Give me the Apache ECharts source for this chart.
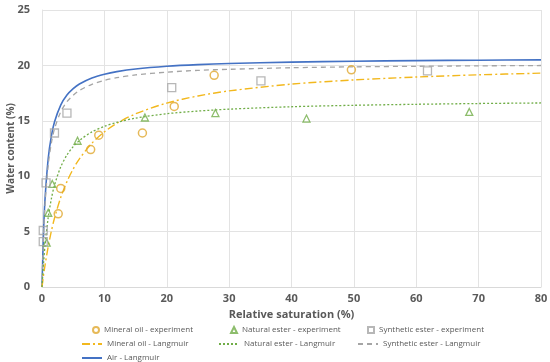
<!DOCTYPE html>
<html><head><meta charset="utf-8">
<script src="https://cdn.jsdelivr.net/npm/echarts@6/dist/echarts.min.js"></script>
<style>html,body{margin:0;padding:0;background:#fff}#c{width:550px;height:362px}</style>
</head><body><div id="c"></div>
<script>
// Experimental points [relative saturation %, water content %]
var mineralExp = [[2.6,6.6],[3.0,8.9],[7.8,12.4],[9.1,13.7],[16.1,13.9],[21.2,16.3],[27.6,19.1],[49.6,19.6]];
var naturalExp = [[0.75,4.0],[1.0,6.7],[1.65,9.3],[5.7,13.2],[16.5,15.3],[27.8,15.7],[42.4,15.2],[68.5,15.8]];
var syntheticExp = [[0.2,4.1],[0.2,5.1],[0.65,9.4],[2.0,13.9],[4.0,15.7],[20.8,18.0],[35.1,18.6],[61.8,19.5]];

// Fitted curves
var curveX = [0,0.25,0.5,1,1.5,2,3,4,5,6,8,10,12,15,20,25,30,40,50,60,70,80];
var mineralFit = [0,1.06,2.01,3.66,5.04,6.20,8.08,9.51,10.65,11.57,12.98,14.00,14.77,15.63,16.60,17.24,17.70,18.31,18.69,18.95,19.15,19.30];
var naturalFit = [0,2.18,3.86,6.29,7.96,9.18,10.84,11.91,12.67,13.22,14.00,14.50,14.86,15.24,15.64,15.88,16.05,16.27,16.40,16.49,16.56,16.61];
var syntheticFit = [0,4.66,7.58,11.02,12.99,14.26,15.81,16.72,17.31,17.74,18.29,18.65,18.89,19.14,19.39,19.55,19.65,19.79,19.87,19.92,19.96,19.99];
var airFit = [0,5.02,8.08,11.62,13.61,14.89,16.42,17.32,17.90,18.32,18.86,19.20,19.44,19.68,19.92,20.07,20.17,20.30,20.38,20.43,20.47,20.50];

var xTicks = [0,10,20,30,40,50,60,70,80];
var yTicks = [0,5,10,15,20,25];

function pairs(xs, ys){ return xs.map(function(x,i){return [x, ys[i]];}); }

var GOLD = '#E0A82E', GOLDLINE = '#F2B81E', GREEN = '#70AD47', GREY = '#A5A5A5', BLUE = '#4472C4';
var FONT = 'Open Sans';
var labelStyle = {color:'#595959', fontSize:11, fontWeight:'bold', fontFamily:FONT};

function leg(name, left, top, w, h, isLine){
  var o = {data:[name], left:left, top:top, itemWidth:w, itemHeight:h, padding:0, itemGap:0,
    textStyle:{color:'#595959', fontSize:8, fontFamily:FONT}, selectedMode:false};
  if (isLine) o.itemStyle = {opacity:0};
  return o;
}

var chart = echarts.init(document.getElementById('c'), null, {renderer:'canvas'});
chart.setOption({
  animation:false,
  backgroundColor:'#fff',
  grid:{left:42, right:9, top:10, bottom:75, containLabel:false, outerBoundsMode:'none'},
  xAxis:{type:'value', min:xTicks[0], max:xTicks[xTicks.length-1], interval:10,
    name:'Relative saturation (%)', nameLocation:'middle', nameGap:22,
    nameTextStyle:{color:'#595959', fontSize:11, fontWeight:'bold', fontFamily:FONT},
    axisLine:{show:true, lineStyle:{color:'#D9D9D9'}}, axisTick:{show:false},
    axisLabel:Object.assign({margin:6}, labelStyle),
    splitLine:{show:true, lineStyle:{color:'#E3E3E3'}}},
  yAxis:{type:'value', min:yTicks[0], max:yTicks[yTicks.length-1], interval:5,
    name:'Water content (%)', nameLocation:'middle', nameGap:26, nameRotate:90, nameMoveOverlap:false,
    nameTextStyle:{color:'#595959', fontSize:10, fontWeight:'bold', fontFamily:FONT},
    axisLine:{show:true, lineStyle:{color:'#E3E3E3'}}, axisTick:{show:false},
    axisLabel:Object.assign({margin:12}, labelStyle),
    splitLine:{show:true, lineStyle:{color:'#E3E3E3'}}},
  legend:[
    leg('Mineral oil - experiment', 92, 326, 6, 6, false),
    leg('Natural ester - experiment', 230, 326, 6, 6, false),
    leg('Synthetic ester - experiment', 367, 326, 6, 6, false),
    leg('Mineral oil - Langmuir', 81, 340, 20, 6, true),
    leg('Natural ester - Langmuir', 218, 340, 20, 6, true),
    leg('Synthetic ester - Langmuir', 357, 340, 20, 6, true),
    leg('Air - Langmuir', 81, 354, 20, 6, true)
  ],
  series:[
    {name:'Air - Langmuir', type:'line', data:pairs(curveX, airFit), smooth:0.3, showSymbol:false, symbol:'none',
      lineStyle:{color:BLUE, width:1.6}, itemStyle:{color:BLUE}, z:3},
    {name:'Synthetic ester - Langmuir', type:'line', data:pairs(curveX, syntheticFit), smooth:0.3, symbol:'none',
      lineStyle:{color:GREY, width:1.3, type:[5,4]}, itemStyle:{color:GREY}, z:3},
    {name:'Mineral oil - Langmuir', type:'line', data:pairs(curveX, mineralFit), smooth:0.3, symbol:'none',
      lineStyle:{color:GOLDLINE, width:1.4, type:[8,3,2,3]}, itemStyle:{color:GOLDLINE}, z:3},
    {name:'Natural ester - Langmuir', type:'line', data:pairs(curveX, naturalFit), smooth:0.3, symbol:'none',
      lineStyle:{color:GREEN, width:1.3, type:[2,2]}, itemStyle:{color:GREEN}, z:3},
    {name:'Mineral oil - experiment', type:'scatter', data:mineralExp, symbol:'circle', symbolSize:8,
      itemStyle:{color:'rgba(255,255,255,0)', borderColor:GOLD, borderWidth:1.5}, z:4},
    {name:'Natural ester - experiment', type:'scatter', data:naturalExp, symbol:'triangle', symbolSize:7,
      itemStyle:{color:'rgba(255,255,255,0)', borderColor:GREEN, borderWidth:1.3}, z:4},
    {name:'Synthetic ester - experiment', type:'scatter', data:syntheticExp, symbol:'rect', symbolSize:8,
      itemStyle:{color:'rgba(255,255,255,0)', borderColor:GREY, borderWidth:1.3}, z:4}
  ]
});
</script></body></html>
